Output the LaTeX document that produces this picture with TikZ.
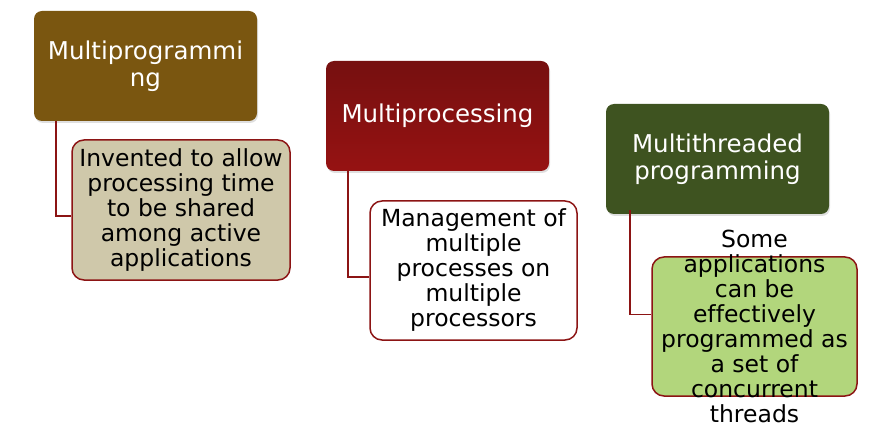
\documentclass[tikz,border=0pt]{standalone}
\usepackage{fontspec}
\setmainfont[Ligatures=CommonOff]{DejaVu Sans}
\usetikzlibrary{shadows}

\definecolor{brownhead}{RGB}{122,86,16}
\definecolor{redtop}{RGB}{118,16,16}
\definecolor{redbottom}{RGB}{150,18,18}
\definecolor{greenhead}{RGB}{62,83,32}
\definecolor{tanleaf}{RGB}{207,200,170}
\definecolor{greenleaf}{RGB}{178,214,124}
\definecolor{edgered}{RGB}{140,20,20}

\tikzset{
  head/.style={rounded corners=8pt, minimum width=223pt, minimum height=110pt,
    inner sep=0pt, text=white, align=center, font=\fontsize{24.5}{27}\selectfont,
    drop shadow={opacity=0.25, shadow xshift=1pt, shadow yshift=-2pt}},
  leaf/.style={draw=edgered, line width=1.5pt, rounded corners=12pt, inner sep=0pt,
    align=center, font=\fontsize{23.5}{25}\selectfont},
  link/.style={draw=edgered, line width=1.5pt}
}

\begin{document}
\begin{tikzpicture}[x=1pt,y=-1pt]
    \useasboundingbox (0,0) rectangle (872,430);

    % Multiprogramming
    \node[head, fill=brownhead] (multiprog) at (145.5,66) {Multiprogrammi\\ng};
    \node[leaf, fill=tanleaf, minimum width=218pt, minimum height=140pt] (multiprogtxt) at (181,210)
        {Invented to allow\\processing time\\to be shared\\among active\\applications};

    % Multiprocessing
    \node[head, top color=redtop, bottom color=redbottom] (multiproc) at (437.5,116) {Multiprocessing};
    \node[leaf, fill=white, minimum width=207pt, minimum height=139pt] (multiproctxt) at (473.5,270.5)
        {Management of\\multiple\\processes on\\multiple\\processors};

    % Multithreaded programming
    \node[head, fill=greenhead] (multithread) at (717.5,159) {Multithreaded\\programming};
    \node[leaf, fill=greenleaf, minimum width=205pt, minimum height=139pt] (multithreadbox) at (754.5,326.5) {};
    \node[align=center, inner sep=0pt, font=\fontsize{23.5}{25}\selectfont] (multithreadtxt) at (multithreadbox.center)
        {Some\\applications\\can be\\effectively\\programmed as\\a set of\\concurrent\\threads};

    % Linee
    \draw[link] ([xshift=22pt]multiprog.south west) |- ([yshift=-6pt]multiprogtxt.west);
    \draw[link] ([xshift=22pt]multiproc.south west) |- ([yshift=-6.5pt]multiproctxt.west);
    \draw[link] ([xshift=24pt,yshift=4pt]multithread.south west) |- ([yshift=12pt]multithreadbox.west);
\end{tikzpicture}
\end{document}
